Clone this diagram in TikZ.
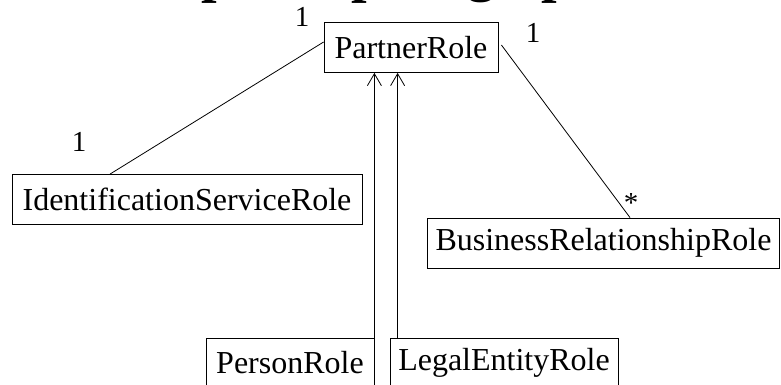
\documentclass[tikz,border=0pt]{standalone}
\usepackage{fontspec}
\setmainfont{Liberation Serif}
\usetikzlibrary{arrows.meta,calc}

\tikzset{
  classbox/.style={draw, line width=0.8pt, rectangle, minimum height=50pt,
    inner xsep=8pt, inner ysep=0pt, font=\fontsize{32}{38}\selectfont},
  mult/.style={inner sep=0pt, font=\fontsize{29}{32}\selectfont},
  assoc/.style={line width=0.8pt},
  inherit/.style={line width=0.8pt, -{Straight Barb[length=12pt,width=14pt,line width=0.8pt]}},
  heading/.style={inner sep=0pt, anchor=base, font=\fontsize{56}{60}\selectfont\bfseries}
}

\begin{document}
\begin{tikzpicture}[x=1pt,y=1pt]
  \useasboundingbox (0,0) rectangle (781,385);
  \fill[white] (0,0) rectangle (781,385);

  % heading above the diagram, only its lowest strokes fall inside the frame
  \begin{scope}
    \clip (0,0) rectangle (781,385);
    \node[heading] (h1) at (217,393.5) {p};
    \node[heading] (h2) at (367,393.5) {p};
    \node[heading] (h3) at (481,394.5) {g};
    \node[heading] (h4) at (557,393.5) {p};
  \end{scope}

  % classes
  \node[classbox, minimum width=174pt] (partner)  at (411,337.5) {PartnerRole};
  \node[classbox, minimum width=350pt] (ident)    at (187,185.5) {IdentificationServiceRole};
  \node[classbox, minimum width=347pt] (business) at (603.5,142) {BusinessRelationshipRole};
  \node[classbox, minimum width=168pt] (person)   at (290,22)    {PersonRole};
  \node[classbox, minimum width=228pt] (legal)    at (504,22)    {LegalEntityRole};

  % associations
  \draw[assoc] ($(partner.west)+(0,5.5)$) -- ($(ident.north)+(-77,0)$);
  \draw[assoc] ($(partner.east)+(3,2.5)$) -- ($(business.north)+(26.5,0)$);

  % generalisations
  \coordinate (pfoot) at (person.north east);
  \coordinate (lfoot) at ($(legal.north west)+(8,0)$);
  \draw[inherit] (pfoot) -- (pfoot |- partner.south);
  \draw[inherit] (lfoot) -- (lfoot |- partner.south);

  % multiplicities
  \node[mult] (m1) at (302,368) {1};
  \node[mult] (m2) at (533,352) {1};
  \node[mult] (m3) at (79,243)  {1};
  \node[mult] (m4) at (631,182) {*};
\end{tikzpicture}
\end{document}
